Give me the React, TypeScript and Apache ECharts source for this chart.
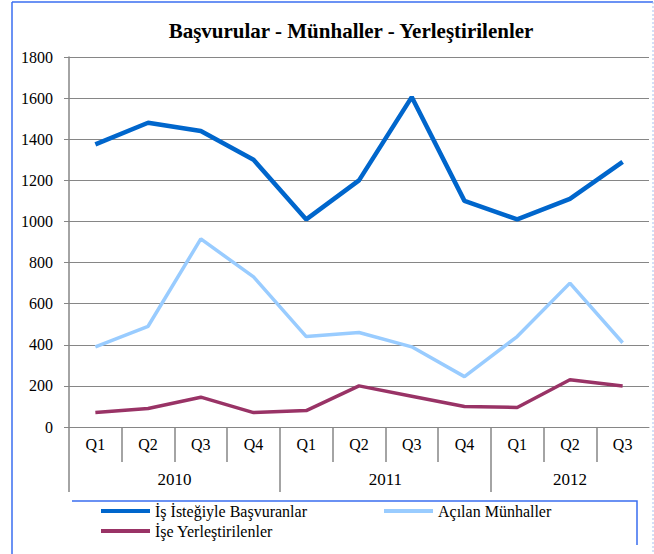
import React, { useEffect, useRef } from "react";
import * as echarts from "echarts";

const quarters = ["Q1", "Q2", "Q3", "Q4", "Q1", "Q2", "Q3", "Q4", "Q1", "Q2", "Q3"];
// half-quarter boundary points (0..11 in steps of 0.5) used for separators and year labels
const yearPoints = [
  "", "", "", "", "2010", "", "", "", "", "", "", "", "2011", "", "", "", "", "", "", "2012", "", "", "",
];
const yearBoundaryIdx = [0, 8, 16];
const yearLabelIdx = [4, 12, 19];

const basvuranlar = [1375, 1480, 1440, 1300, 1010, 1200, 1605, 1100, 1010, 1110, 1290];
const munhaller = [390, 490, 915, 730, 440, 460, 390, 245, 440, 700, 410];
const yerlestirilenler = [70, 90, 145, 70, 80, 200, 150, 100, 95, 230, 200];

const names = ["İş İsteğiyle Başvuranlar", "Açılan Münhaller", "İşe Yerleştirilenler"];
const colors = ["#0066CC", "#99CCFF", "#993366"];

const FONT = "Liberation Serif";
const GRAY = "#868686";
const FRAME = "#3A6EF0";

export default function App() {
  const ref = useRef<HTMLDivElement>(null);
  useEffect(() => {
    if (!ref.current) return;
    const chart = echarts.init(ref.current, null, { renderer: "svg" });
    const legendText = { fontFamily: FONT, fontSize: 16, color: "#000" };
    const legendBase = {
      orient: "horizontal",
      icon: "rect",
      itemWidth: 49,
      itemHeight: 4,
      textStyle: legendText,
      padding: 0,
    };
    chart.setOption({
      animation: false,
      backgroundColor: "#fff",
      textStyle: { fontFamily: FONT },
      title: {
        text: "Başvurular - Münhaller - Yerleştirilenler",
        left: 351,
        textAlign: "center",
        top: 20,
        padding: 0,
        textStyle: { fontFamily: FONT, fontSize: 21, fontWeight: "bold", color: "#000" },
      },
      grid: { left: 69, right: 5, top: 57, bottom: 127, containLabel: false },
      xAxis: [
        {
          type: "category",
          data: quarters,
          boundaryGap: true,
          axisLine: { show: true, lineStyle: { color: GRAY, width: 1 } },
          axisTick: { show: false },
          axisLabel: { interval: 0, margin: 9, fontFamily: FONT, fontSize: 16, color: "#000" },
          splitLine: { show: false },
        },
        {
          type: "category",
          data: yearPoints,
          boundaryGap: false,
          position: "bottom",
          offset: 0,
          axisLine: { show: false },
          axisTick: {
            show: true,
            length: 35,
            interval: (i: number) => i % 2 === 0 && i < yearPoints.length - 1,
            lineStyle: { color: GRAY, width: 1.5 },
          },
          axisLabel: { show: false },
          splitLine: { show: false },
        },
        {
          type: "category",
          data: yearPoints,
          boundaryGap: false,
          position: "bottom",
          offset: 35,
          axisLine: { show: false },
          axisTick: {
            show: true,
            length: 30,
            interval: (i: number) => yearBoundaryIdx.includes(i),
            lineStyle: { color: GRAY, width: 1.5 },
          },
          axisLabel: {
            show: true,
            interval: (i: number) => yearLabelIdx.includes(i),
            margin: 9,
            fontFamily: FONT,
            fontSize: 17,
            color: "#000",
          },
          splitLine: { show: false },
        },
      ],
      yAxis: {
        type: "value",
        min: 0,
        max: 1800,
        interval: 200,
        axisLine: { show: true, lineStyle: { color: GRAY, width: 1.5 } },
        axisTick: { show: true, length: 5, lineStyle: { color: GRAY } },
        axisLabel: {
          margin: 16,
          fontFamily: FONT,
          fontSize: 16,
          color: "#000",
          formatter: (v: number) => String(v),
        },
        splitLine: { show: true, lineStyle: { color: GRAY, width: 1 } },
      },
      legend: [
        { ...legendBase, data: [names[0]], left: 101, top: 503 },
        { ...legendBase, data: [names[1]], left: 384, top: 503 },
        { ...legendBase, data: [names[2]], left: 101, top: 523 },
      ],
      series: [
        {
          name: names[0],
          type: "line",
          data: basvuranlar,
          showSymbol: false,
          symbol: "none",
          color: colors[0],
          lineStyle: { width: 4.5, color: colors[0] },
        },
        {
          name: names[1],
          type: "line",
          data: munhaller,
          showSymbol: false,
          symbol: "none",
          color: colors[1],
          lineStyle: { width: 3.5, color: colors[1] },
        },
        {
          name: names[2],
          type: "line",
          data: yerlestirilenler,
          showSymbol: false,
          symbol: "none",
          color: colors[2],
          lineStyle: { width: 3.5, color: colors[2] },
        },
      ],
      graphic: [
        { type: "line", shape: { x1: 12, y1: 2, x2: 12, y2: 554 }, style: { stroke: FRAME, lineWidth: 1.5 } },
        { type: "line", shape: { x1: 12, y1: 2, x2: 653, y2: 2 }, style: { stroke: FRAME, lineWidth: 1.5 } },
        {
          type: "line",
          shape: { x1: 653, y1: 2, x2: 653, y2: 554 },
          style: { stroke: "#A8C0F0", lineWidth: 1, lineDash: [2, 2] },
        },
        {
          type: "polyline",
          shape: { points: [[72, 501], [637, 501], [637, 545]] },
          style: { stroke: FRAME, lineWidth: 1.5, fill: null },
        },
      ],
    });
    return () => chart.dispose();
  }, []);
  return (
    <div
      ref={ref}
      style={{ position: "absolute", left: 0, top: 0, width: 654, height: 554 }}
    />
  );
}
